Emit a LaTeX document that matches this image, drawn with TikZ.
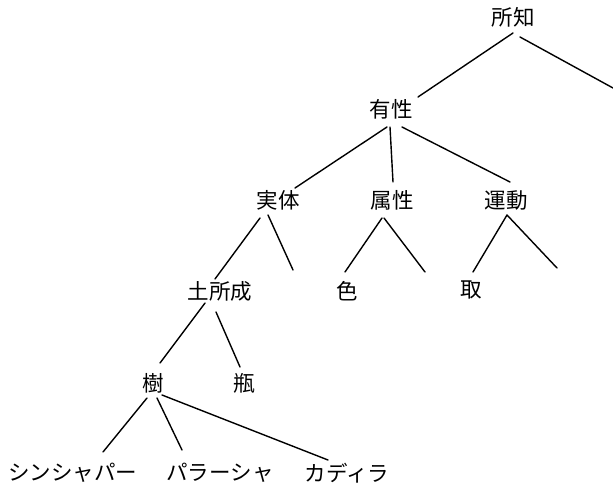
\documentclass[tikz,border=0pt]{standalone}
\usepackage{fontspec}
\newfontfamily\cjk{Noto Sans CJK JP}
\usetikzlibrary{calc}
\tikzset{
  lbl/.style={inner sep=0pt, font=\cjk\fontsize{21.5}{26}\selectfont},
  edge/.style={line width=1.4pt, line cap=round}
}
\begin{document}
\begin{tikzpicture}[x=1pt,y=-1pt]
\useasboundingbox (0,0) rectangle (613,486);
\node[lbl] (shoshi) at (513,17) {所知};
\node[lbl] (yuusei) at (391,109) {有性};
\node[lbl] (jittai) at (278,200) {実体};
\node[lbl] (zokusei) at (392,200) {属性};
\node[lbl] (undou) at (506,200) {運動};
\node[lbl] (dosho) at (220,291) {土所成};
\node[lbl] (iro) at (347,291) {色};
\node[lbl] (shu) at (471,290) {取};
\node[lbl] (ju) at (153,383) {樹};
\node[lbl] (bin) at (244,383) {瓶};
\node[lbl] (shinsha) at (73,473) {シンシャパー};
\node[lbl] (parasha) at (220,473) {パラーシャ};
\node[lbl] (kadira) at (347,473) {カディラ};
\coordinate (e1) at (613,88);
\coordinate (e2) at (293,270);
\coordinate (e3) at (425,272);
\coordinate (e4) at (557,268);
\draw[edge] ($(shoshi)+(0,16)$) -- ($(yuusei)+(27,-12)$);
\draw[edge] ($(shoshi)+(7,20)$) -- (e1);
\draw[edge] ($(yuusei)+(-4,18)$) -- ($(jittai)+(17,-12)$);
\draw[edge] ($(yuusei)+(-1,18)$) -- ($(zokusei)+(1,-18)$);
\draw[edge] ($(yuusei)+(11,18)$) -- ($(undou)+(4,-18)$);
\draw[edge] ($(jittai)+(-18,18)$) -- ($(dosho)+(-5,-12)$);
\draw[edge] ($(jittai)+(-10,15)$) -- (e2);
\draw[edge] ($(zokusei)+(-10,18)$) -- ($(iro)+(-2,-19)$);
\draw[edge] ($(zokusei)+(-8,18)$) -- (e3);
\draw[edge] ($(undou)+(1,15)$) -- ($(shu)+(2,-18)$);
\draw[edge] ($(undou)+(1,15)$) -- (e4);
\draw[edge] ($(dosho)+(-15,12)$) -- ($(ju)+(7,-20)$);
\draw[edge] ($(dosho)+(-4,21)$) -- ($(bin)+(-4,-16)$);
\draw[edge] ($(ju)+(-6,15)$) -- ($(shinsha)+(30,-21)$);
\draw[edge] ($(ju)+(4,15)$) -- ($(parasha)+(-38,-23)$);
\draw[edge] ($(ju)+(9,12)$) -- ($(kadira)+(-19,-13)$);
\end{tikzpicture}
\end{document}
